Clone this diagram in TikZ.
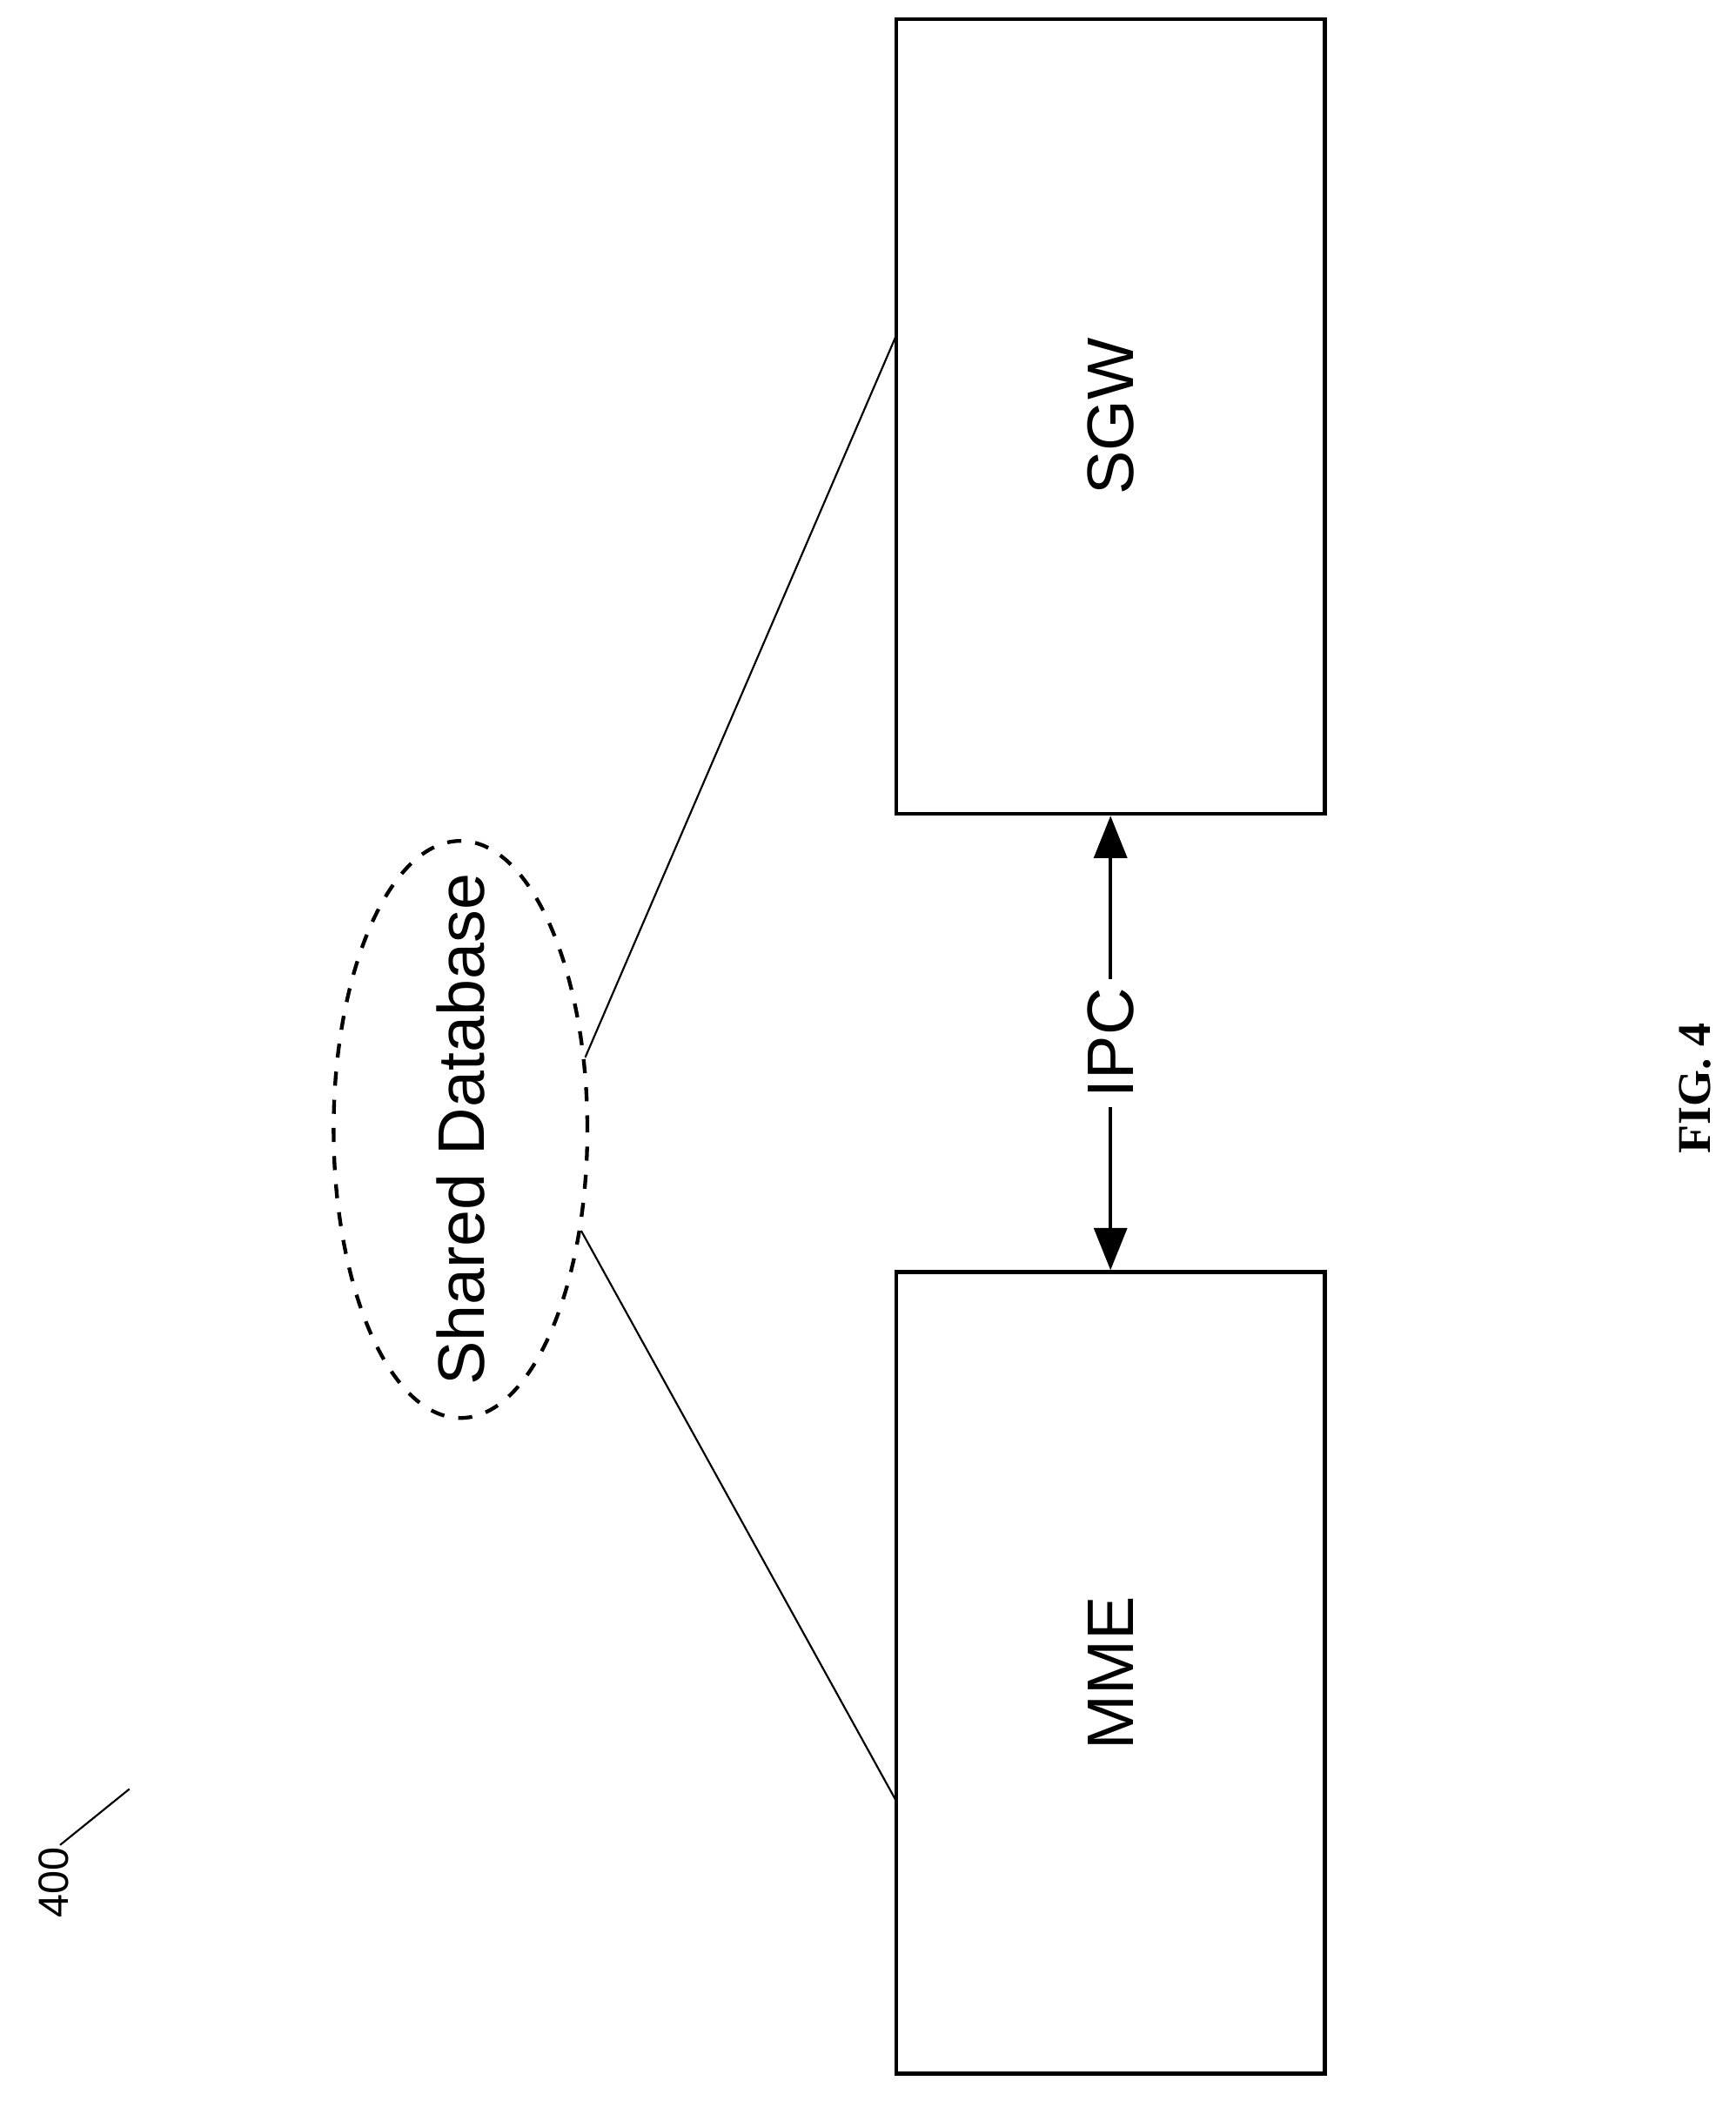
\documentclass[tikz,border=0pt]{standalone}
\usepackage{fontspec}
\setmainfont{Liberation Sans}
\newfontfamily\figfont{Liberation Serif}
\usetikzlibrary{arrows.meta,shapes.geometric}
\begin{document}
\begin{tikzpicture}[x=0.01cm,y=-0.01cm,
  block/.style={draw, thick, minimum width=3.21cm, minimum height=5.95cm},
  lbl/.style={rotate=90, font=\fontsize{14}{16}\selectfont}]
\useasboundingbox (0,0) rectangle (1300,1579);
\node[block] (sgw) at (832,312) {};
\node[block, minimum height=6.0cm] (mme) at (832,1253) {};
\node[lbl] at (sgw.center) {SGW};
\node[lbl] at (mme.center) {MME};
\node[draw, dashed, thick, ellipse, minimum width=1.9cm, minimum height=4.32cm] (db) at (345,846) {};
\node[lbl] at (db.center) {Shared Database};

\coordinate (sgwin) at (672,250);
\coordinate (mmein) at (672,1350);
\draw (db.30) -- (sgwin);
\draw (db.-40) -- (mmein);
\draw[thick,{Triangle[width=7pt,length=9pt]}-{Triangle[width=7pt,length=9pt]}] (sgw.south) -- node[lbl, fill=white, inner sep=2pt] {IPC} (mme.north);

\node[rotate=90, font=\small] (ref) at (40,1410) {400};
\coordinate (refa) at (45,1382);
\coordinate (refb) at (97,1340);
\draw (refa) -- (refb);
\node[rotate=90, font=\figfont\bfseries\normalsize] (fig) at (1270,815) {FIG. 4};
\end{tikzpicture}
\end{document}
